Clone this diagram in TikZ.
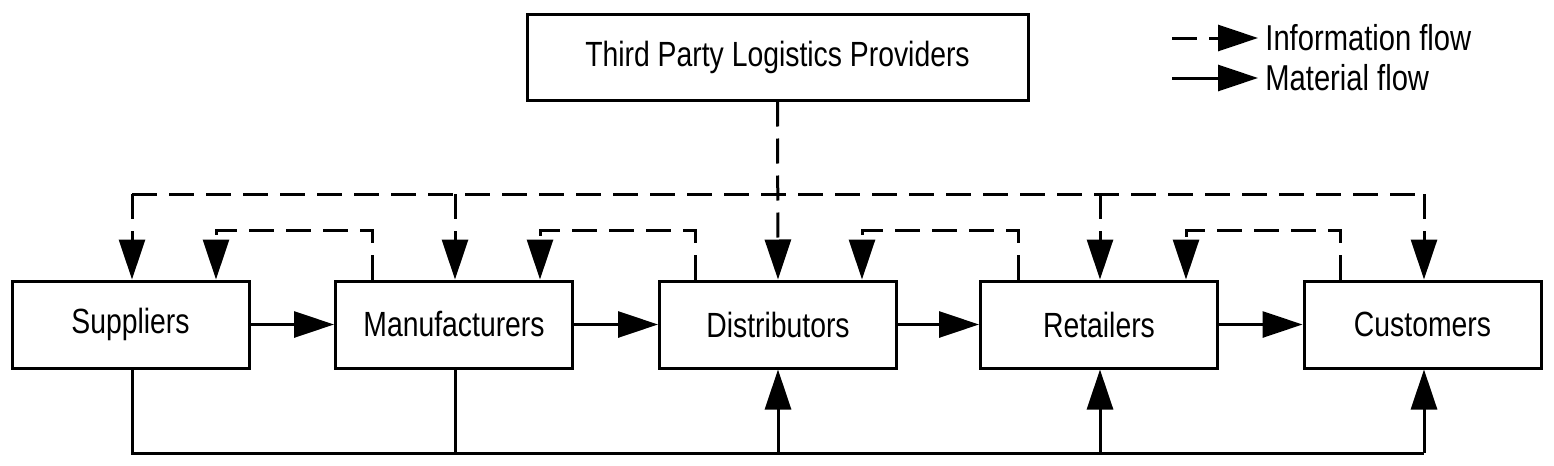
\documentclass[tikz,border=0pt]{standalone}
\usepackage{fontspec}
\setmainfont[FakeStretch=0.81]{Liberation Sans}
\usetikzlibrary{arrows.meta,calc}
\begin{document}
\begin{tikzpicture}[x=0.5pt,y=-0.5pt,
  box/.style={draw,line width=1.5pt,rectangle,minimum width=118.5pt,minimum height=43.5pt,inner sep=0pt,font=\fontsize{17.5}{20}\selectfont},
  flow/.style={line width=1.5pt},
  info/.style={flow,dash pattern=on 12.5pt off 6pt},
  tip/.style={-{Triangle[length=20pt,width=13pt]}},
  lbl/.style={anchor=west,inner sep=0pt,font=\fontsize{18}{20}\selectfont}]
\useasboundingbox (0,0) rectangle (1554,466);
\node[box,minimum width=250.5pt,minimum height=43pt] (tp) at (777.5,57) {Third Party Logistics Providers};
\node[box] (sup) at (130.5,324.5) {Suppliers};
\node[box] (man) at (454,324.5) {Manufacturers};
\node[box] (dis) at (778,324.5) {Distributors};
\node[box] (ret) at (1099,324.5) {Retailers};
\node[box] (cus) at (1422.5,324.5) {Customers};
\coordinate (bus) at (0,194);
\coordinate (row) at (0,230);
\coordinate (bot) at (0,453);
% points on the box tops
\coordinate (supT) at ($(sup.north)+(1.5,0)$);
\coordinate (manT) at ($(man.north)+(1,0)$);
\coordinate (retT) at ($(ret.north)+(1,0)$);
\coordinate (cusT) at ($(cus.north)+(1.5,0)$);
\coordinate (supR) at ($(sup.north)+(85.5,0)$);
\coordinate (manL) at ($(man.north)+(-82,0)$);
\coordinate (manR) at ($(man.north)+(86,0)$);
\coordinate (disL) at ($(dis.north)+(-83,0)$);
\coordinate (disR) at ($(dis.north)+(84,0)$);
\coordinate (retL) at ($(ret.north)+(-81,0)$);
\coordinate (retR) at ($(ret.north)+(87,0)$);
\coordinate (cusL) at ($(cus.north)+(-82.5,0)$);
% points on the box bottoms
\coordinate (supB) at ($(sup.south)+(1.5,0)$);
\coordinate (manB) at ($(man.south)+(1,0)$);
\coordinate (retB) at ($(ret.south)+(1,0)$);
\coordinate (cusB) at ($(cus.south)+(1.5,0)$);
% information flow
\draw[info] (supT |- bus) -- (cusT |- bus);
\draw[info,tip] (tp.south) -- (dis.north);
\draw[info,tip] (supT |- bus) -- (supT);
\draw[info,tip] (manT |- bus) -- (manT);
\draw[info,tip] (retT |- bus) -- (retT);
\draw[info,tip] (cusT |- bus) -- (cusT);
\draw[info,tip] (manL) -- (manL |- row) -| (supR);
\draw[info,tip] (disL) -- (disL |- row) -| (manR);
\draw[info,tip] (retL) -- (retL |- row) -| (disR);
\draw[info,tip] (cusL) -- (cusL |- row) -| (retR);
% material flow
\draw[flow,tip] (sup.east) -- (man.west);
\draw[flow,tip] (man.east) -- (dis.west);
\draw[flow,tip] (dis.east) -- (ret.west);
\draw[flow,tip] (ret.east) -- (cus.west);
\draw[flow] (supB) -- (supB |- bot) -- (cusB |- bot);
\draw[flow] (manB) -- (manB |- bot);
\draw[flow,tip] (dis.south |- bot) -- (dis.south);
\draw[flow,tip] (retB |- bot) -- (retB);
\draw[flow,tip] (cusB |- bot) -- (cusB);
% legend
\coordinate (i1) at (1172,38);
\coordinate (i2) at (1258,38);
\coordinate (m1) at (1172,78);
\coordinate (m2) at (1258,78);
\draw[info,tip] (i1) -- (i2);
\draw[flow,tip] (m1) -- (m2);
\node[lbl] (il) at (1265,38) {Information flow};
\node[lbl] (ml) at (1265,78) {Material flow};
\end{tikzpicture}
\end{document}
